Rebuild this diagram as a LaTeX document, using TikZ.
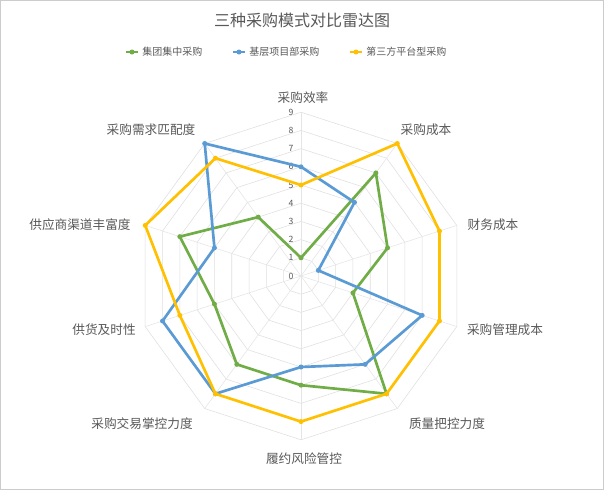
\documentclass[tikz,border=0pt]{standalone}
\usepackage{fontspec}
\usetikzlibrary{calc}
\newfontfamily\cjk{Noto Sans CJK SC}
\definecolor{cg}{HTML}{70AD47}
\definecolor{cb}{HTML}{5B9BD5}
\definecolor{cy}{HTML}{FFC000}
\definecolor{tx}{HTML}{595959}
\begin{document}
\begin{tikzpicture}[x=0.75pt,y=-0.75pt,
  lab/.style={font=\cjk\fontsize{9.5}{11}\selectfont,text=tx,inner sep=0pt},
  tick/.style={font=\cjk\fontsize{6.5}{7}\selectfont,text=tx,inner sep=0pt},
  leg/.style={font=\cjk\fontsize{7.5}{8}\selectfont,text=tx,inner sep=0pt,anchor=west},
  series/.style={line width=2pt,line join=round}]
\draw[gray!40,fill=white] (0.5,0.5) rectangle (603.5,489.5);
\useasboundingbox (0,0) rectangle (604,490);
\coordinate (O) at (301,276);
\def\u{18.2}
% grid
\foreach \r in {1,...,9}{
  \draw[gray!25] ($(O)+(-90:\r*\u)$) \foreach \i in {1,...,9}{-- ($(O)+({36*\i-90}:\r*\u)$)} -- cycle;}
\foreach \i in {0,...,9}{\draw[gray!20] (O) -- ($(O)+({36*\i-90}:9*\u)$);}
\foreach \r in {0,...,9}{\node[tick] (t\r) at ($(O)+(-10,-\r*\u)$) {\r};}
% series
\newcommand\radseries[3]{%
  \draw[series,#1] ($(O)+(-90:#2*\u)$) \foreach[count=\i from 1] \v in {#3}{ -- ($(O)+({36*\i-90}:\v*\u)$)} -- cycle;
  \fill[#1] ($(O)+(-90:#2*\u)$) circle (2.5);
  \foreach[count=\i from 1] \v in {#3}{\fill[#1] ($(O)+({36*\i-90}:\v*\u)$) circle (2.5);}}
\radseries{cg}{1}{7,5,3,8,6,6,5,7,4}
\radseries{cb}{6}{5,1,7,6,5,8,8,5,9}
\radseries{cy}{5}{9,8,8,8,8,8,7,9,8}
% labels
\node[lab] (a0) at (303,98) {采购效率};
\node[lab] (a1) at (426,130) {采购成本};
\node[lab] (a2) at (493,225) {财务成本};
\node[lab] (a3) at (505,330) {采购管理成本};
\node[lab] (a4) at (447,424) {质量把控力度};
\node[lab] (a5) at (304,459) {履约风险管控};
\node[lab] (a6) at (142,424) {采购交易掌控力度};
\node[lab] (a7) at (104,330) {供货及时性};
\node[lab] (a8) at (80,225) {供应商渠道丰富度};
\node[lab] (a9) at (151,130) {采购需求匹配度};
% title
\node[font=\cjk\fontsize{12}{14}\selectfont,text=tx] (title) at (302,20) {三种采购模式对比雷达图};
% legend
\foreach \x/\c/\t/\n in {126/cg/集团集中采购/l1,233/cb/基层项目部采购/l2,350/cy/第三方平台型采购/l3}{
  \draw[\c,line width=2pt] (\x,52) -- (\x+12,52);
  \fill[\c] (\x+6,52) circle (2.5);
  \node[leg] (\n) at (\x+16,52) {\t};}
\end{tikzpicture}
\end{document}
